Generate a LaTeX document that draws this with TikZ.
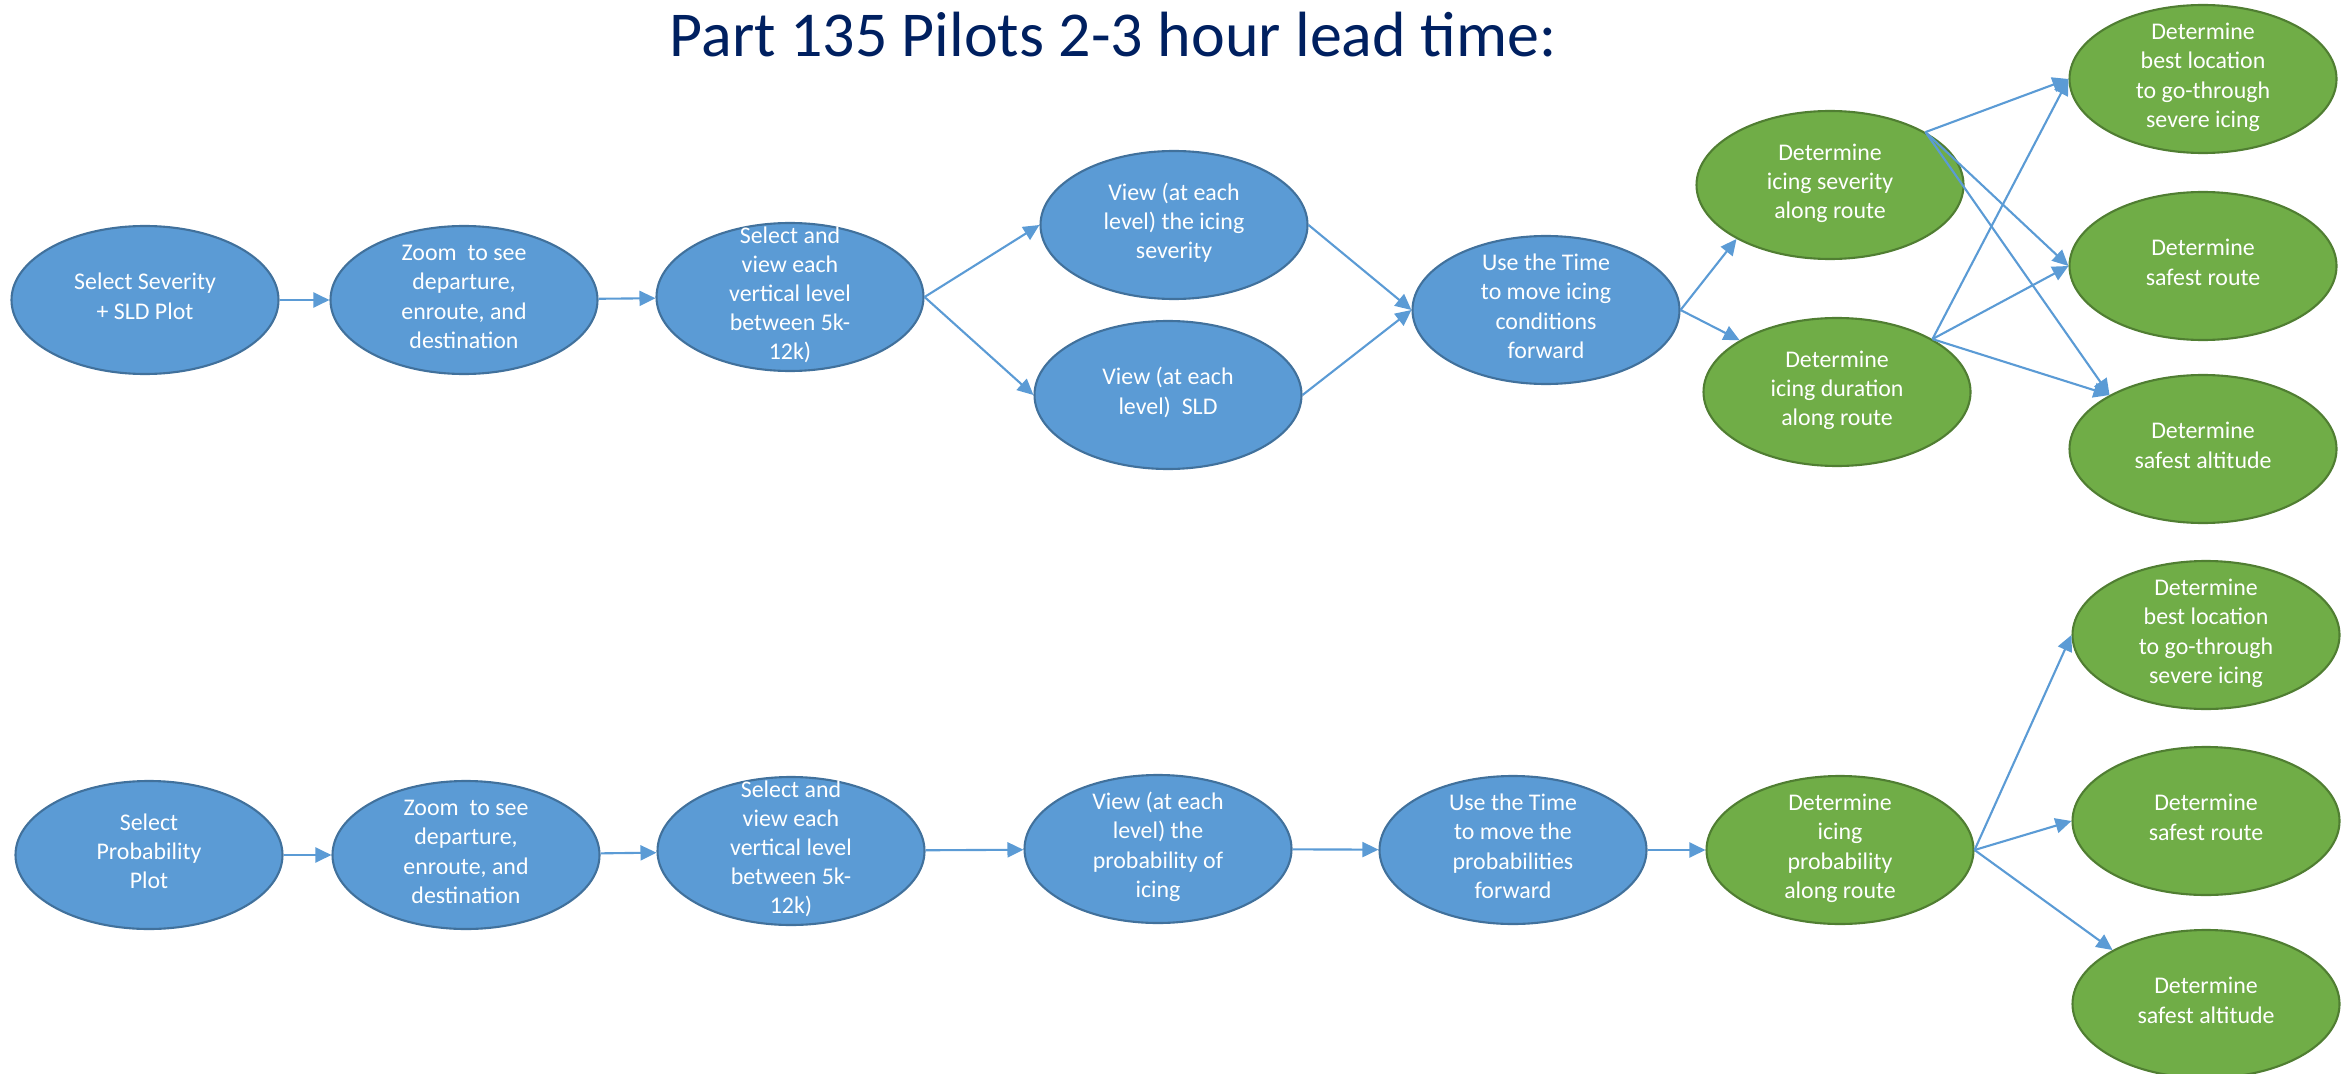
\documentclass[tikz,border=0pt]{standalone}
\usepackage{fontspec}
\setmainfont{Carlito}
\usetikzlibrary{shapes.geometric,arrows.meta}
\definecolor{stepblue}{HTML}{5B9BD5}
\definecolor{stepline}{HTML}{41719C}
\definecolor{goalgreen}{HTML}{70AD47}
\definecolor{goalline}{HTML}{507E32}
\definecolor{titlenavy}{HTML}{002060}
\newcommand{\nodetext}[1]{\smash{\raisebox{-0.2em}{\begin{tabular}{@{}c@{}}#1\end{tabular}}}}
\begin{document}
\begin{tikzpicture}[
    stepnode/.style={ellipse, fill=stepblue, draw=stepline, line width=0.6pt,
        minimum width=2.67cm, minimum height=1.48cm, inner sep=0pt,
        text=white, font=\fontsize{6.8}{8.3}\selectfont},
    goalnode/.style={stepnode, fill=goalgreen, draw=goalline},
    flow/.style={-{Triangle[length=0.16cm,width=0.15cm]}, draw=stepblue, line width=0.6pt}
]
    \useasboundingbox (0,0) rectangle (23.44,-10.74);

    \node [text=titlenavy, font=\fontsize{18.2}{22}\selectfont, anchor=base] (title) at (11.13,-0.57) {Part 135 Pilots 2-3 hour lead time:};

    \node [stepnode] (sev1) at (1.45,-3.00) {\nodetext{Select Severity\\+ SLD Plot}};
    \node [stepnode] (sev2) at (4.64,-3.00) {\nodetext{Zoom\ \ to see\\departure,\\enroute, and\\destination}};
    \node [stepnode] (sev3) at (7.90,-2.97) {\nodetext{Select and\\view each\\vertical level\\between 5k-\\12k)}};
    \node [stepnode] (sev4) at (11.74,-2.25) {\nodetext{View (at each\\level) the icing\\severity}};
    \node [stepnode] (sev5) at (11.68,-3.95) {\nodetext{View (at each\\level)\ \ SLD}};
    \node [stepnode] (sev6) at (15.46,-3.10) {\nodetext{Use the Time\\to move icing\\conditions\\forward}};
    \node [goalnode] (sevgoal1) at (18.30,-1.85) {\nodetext{Determine\\icing severity\\along route}};
    \node [goalnode] (sevgoal2) at (18.37,-3.92) {\nodetext{Determine\\icing duration\\along route}};
    \node [goalnode] (sevres1) at (22.03,-0.79) {\nodetext{Determine\\best location\\to go-through\\severe icing}};
    \node [goalnode] (sevres2) at (22.03,-2.66) {\nodetext{Determine\\safest route}};
    \node [goalnode] (sevres3) at (22.03,-4.49) {\nodetext{Determine\\safest altitude}};

    \node [stepnode] (prob1) at (1.49,-8.55) {\nodetext{Select\\Probability\\Plot}};
    \node [stepnode] (prob2) at (4.66,-8.55) {\nodetext{Zoom\ \ to see\\departure,\\enroute, and\\destination}};
    \node [stepnode] (prob3) at (7.91,-8.51) {\nodetext{Select and\\view each\\vertical level\\between 5k-\\12k)}};
    \node [stepnode] (prob4) at (11.58,-8.49) {\nodetext{View (at each\\level) the\\probability of\\icing}};
    \node [stepnode] (prob5) at (15.13,-8.50) {\nodetext{Use the Time\\to move the\\probabilities\\forward}};
    \node [goalnode] (probgoal) at (18.40,-8.50) {\nodetext{Determine\\icing\\probability\\along route}};
    \node [goalnode] (probres1) at (22.06,-6.35) {\nodetext{Determine\\best location\\to go-through\\severe icing}};
    \node [goalnode] (probres2) at (22.06,-8.21) {\nodetext{Determine\\safest route}};
    \node [goalnode] (probres3) at (22.06,-10.04) {\nodetext{Determine\\safest altitude}};

    \draw [flow] (sev1) -- (sev2);
    \draw [flow] (sev2) -- (sev3);
    \draw [flow] (sev3.east) -- (sev4.west);
    \draw [flow] (sev3.east) -- (sev5.west);
    \draw [flow] (sev4.east) -- (sev6.west);
    \draw [flow] (sev5.east) -- (sev6.west);
    \draw [flow] (sev6.east) -- (sevgoal1.210);
    \draw [flow] (sev6.east) -- (sevgoal2.152);
    \draw [flow] (sevgoal1.29) -- (sevres1.west);
    \draw [flow] (sevgoal1.29) -- (sevres2.west);
    \draw [flow] (sevgoal1.29) -- (sevres3.150);
    \draw [flow] (sevgoal2.29) -- (sevres1.west);
    \draw [flow] (sevgoal2.29) -- (sevres2.west);
    \draw [flow] (sevgoal2.29) -- (sevres3.150);

    \draw [flow] (prob1) -- (prob2);
    \draw [flow] (prob2) -- (prob3);
    \draw [flow] (prob3) -- (prob4);
    \draw [flow] (prob4) -- (prob5);
    \draw [flow] (prob5) -- (probgoal);
    \draw [flow] (probgoal.east) -- (probres1.west);
    \draw [flow] (probgoal.east) -- (probres2.west);
    \draw [flow] (probgoal.east) -- (probres3.150);
\end{tikzpicture}
\end{document}
